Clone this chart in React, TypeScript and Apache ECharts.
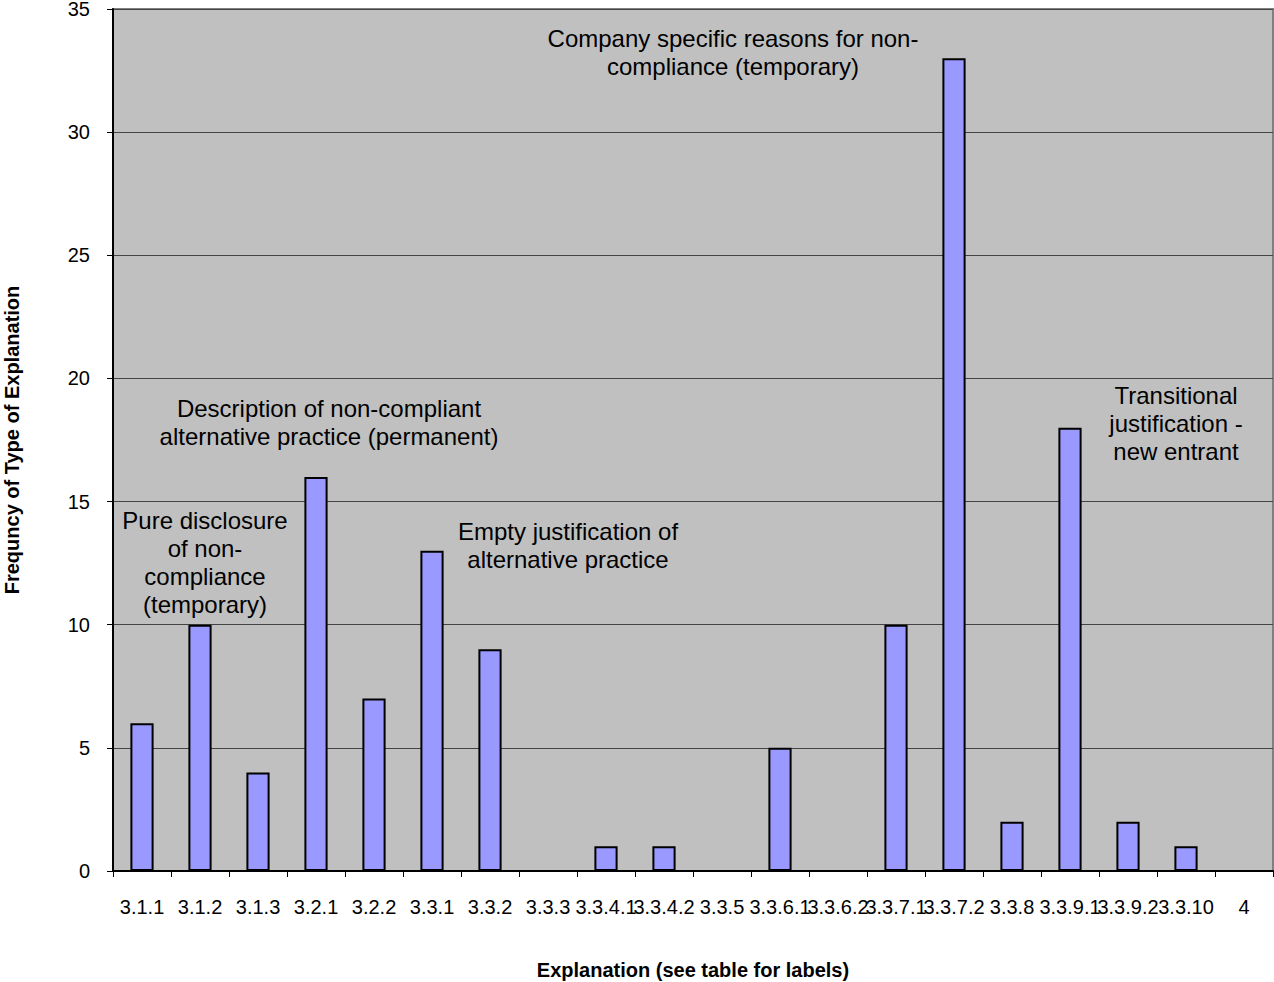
import React, { useEffect, useRef } from "react";
import * as echarts from "echarts";

const categories = ["3.1.1", "3.1.2", "3.1.3", "3.2.1", "3.2.2", "3.3.1", "3.3.2", "3.3.3", "3.3.4.1", "3.3.4.2", "3.3.5", "3.3.6.1", "3.3.6.2", "3.3.7.1", "3.3.7.2", "3.3.8", "3.3.9.1", "3.3.9.2", "3.3.10", "4"];
const frequencies = [6, 10, 4, 16, 7, 13, 9, 0, 1, 1, 0, 5, 0, 10, 33, 2, 18, 2, 1, 0];
const yTicks = { min: 0, max: 35, interval: 5 };
const annotations = [
  { text: "Pure disclosure\nof non-\ncompliance\n(temporary)", x: 205, y: 506 },
  { text: "Description of non-compliant\nalternative practice (permanent)", x: 329, y: 394 },
  { text: "Empty justification of\nalternative practice", x: 568, y: 517 },
  { text: "Company specific reasons for non-\ncompliance (temporary)", x: 733, y: 24 },
  { text: "Transitional\njustification -\nnew entrant", x: 1176, y: 381 },
];

export default function App() {
  const ref = useRef<HTMLDivElement>(null);
  useEffect(() => {
    if (!ref.current) return;
    const chart = echarts.init(ref.current, null, { renderer: "svg" });
    const font = "Liberation Sans, Arial, sans-serif";
    chart.setOption({
      animation: false,
      textStyle: { fontFamily: font },
      grid: {
        left: 113,
        right: 1,
        top: 9,
        bottom: 111,
        containLabel: false,
        outerBoundsMode: "none",
        show: true,
        backgroundColor: "#c0c0c0",
        borderColor: "#808080",
        borderWidth: 2,
      },
      xAxis: {
        type: "category",
        data: categories,
        name: "Explanation (see table for labels)",
        nameLocation: "middle",
        nameGap: 89,
        nameTextStyle: { fontSize: 20, fontWeight: "bold", color: "#000", fontFamily: font },
        axisLine: { lineStyle: { color: "#000", width: 2 } },
        axisTick: { show: true, length: 6, lineStyle: { color: "#000" } },
        axisLabel: { interval: 0, fontSize: 20, color: "#000", margin: 26, fontFamily: font, hideOverlap: false },
      },
      yAxis: {
        type: "value",
        min: yTicks.min,
        max: yTicks.max,
        interval: yTicks.interval,
        name: "Frequncy of Type of Explanation",
        nameLocation: "middle",
        nameGap: 91,
        nameTextStyle: { fontSize: 20, fontWeight: "bold", color: "#000", fontFamily: font },
        axisLine: { show: true, lineStyle: { color: "#000", width: 2 } },
        axisTick: { show: true, length: 6, lineStyle: { color: "#000" } },
        axisLabel: { fontSize: 20, color: "#000", margin: 23, fontFamily: font },
        splitLine: { show: true, lineStyle: { color: "#444", width: 1 } },
      },
      series: [
        {
          type: "bar",
          data: frequencies,
          barWidth: "40%",
          itemStyle: { color: "#9999ff", borderColor: "#000", borderWidth: 2 },
        },
      ],
      graphic: annotations.map((a) => ({
        type: "text",
        x: a.x,
        y: a.y,
        style: {
          text: a.text,
          fontSize: 24,
          lineHeight: 28,
          fontFamily: font,
          fill: "#000",
          align: "center",
          verticalAlign: "top",
        },
      })),
    });
    return () => chart.dispose();
  }, []);
  return <div ref={ref} style={{ position: "absolute", left: 0, top: 0, width: 1274, height: 982 }} />;
}
